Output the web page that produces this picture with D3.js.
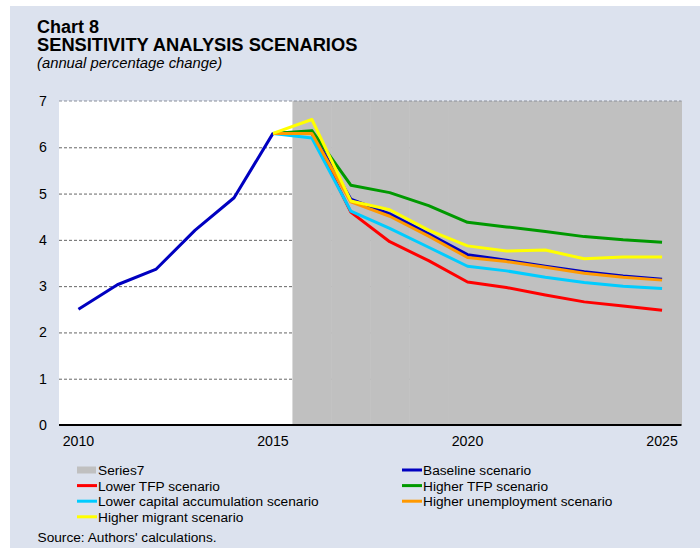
<!DOCTYPE html>
<html>
<head>
<meta charset="utf-8">
<script src="https://cdn.jsdelivr.net/npm/d3@7"></script>
<style>
  body { margin: 0; background: #fff; }
  svg { display: block; font-family: "Liberation Sans", Arial, sans-serif; }
</style>
</head>
<body>
<div id="chart"></div>
<script>
// Data
const years = [2010, 2011, 2012, 2013, 2014, 2015, 2016, 2017, 2018, 2019, 2020, 2021, 2022, 2023, 2024, 2025];
const projYears = [2015, 2016, 2017, 2018, 2019, 2020, 2021, 2022, 2023, 2024, 2025];
const shadedYears = [2016, 2017, 2018, 2019, 2020, 2021, 2022, 2023, 2024, 2025];
const shadedValue = 7;
const baseline = [2.50, 3.03, 3.37, 4.21, 4.91, 6.30, 6.33, 4.88, 4.56, 4.13, 3.68, 3.56, 3.43, 3.31, 3.22, 3.15];
const lowerTFP = [6.30, 6.30, 4.60, 3.96, 3.55, 3.09, 2.97, 2.81, 2.66, 2.57, 2.48];
const higherTFP = [6.30, 6.36, 5.18, 5.02, 4.74, 4.38, 4.28, 4.18, 4.07, 4.00, 3.95];
const lowerCapital = [6.30, 6.20, 4.62, 4.25, 3.84, 3.43, 3.33, 3.19, 3.08, 3.00, 2.95];
const higherUnemployment = [6.30, 6.30, 4.82, 4.51, 4.08, 3.62, 3.53, 3.41, 3.28, 3.19, 3.13];
const higherMigrant = [6.30, 6.60, 4.84, 4.65, 4.21, 3.87, 3.76, 3.78, 3.59, 3.63, 3.63];
const yTicks = [0, 1, 2, 3, 4, 5, 6, 7];
const xTickLabels = [2010, 2015, 2020, 2025];

// Line series in drawing order
const series = [
    { name: "Baseline scenario", x: years, y: baseline, color: "#0000c0" },
    { name: "Lower TFP scenario", x: projYears, y: lowerTFP, color: "#ff0000" },
    { name: "Higher TFP scenario", x: projYears, y: higherTFP, color: "#009900" },
    { name: "Lower capital accumulation scenario", x: projYears, y: lowerCapital, color: "#00ccff" },
    { name: "Higher unemployment scenario", x: projYears, y: higherUnemployment, color: "#ff9900" },
    { name: "Higher migrant scenario", x: projYears, y: higherMigrant, color: "#ffff00" }
];

// SVG parameters
const svgWidth = 700;
const svgHeight = 548;
const plot = { l: 59, r: 681.5, t: 101, b: 425 };

const svg = d3.select("#chart")
    .append("svg")
    .attr("width", svgWidth)
    .attr("height", svgHeight);

// Panel background
svg.append("rect")
    .attr("x", 10).attr("y", 6)
    .attr("width", svgWidth - 10).attr("height", svgHeight - 6)
    .attr("fill", "#dce2ee");

// Titles
svg.append("text").attr("x", 37).attr("y", 32.5)
    .attr("font-size", 18).attr("font-weight", "bold").text("Chart 8");
svg.append("text").attr("x", 37).attr("y", 51)
    .attr("font-size", 18.3).attr("font-weight", "bold").text("SENSITIVITY ANALYSIS SCENARIOS");
svg.append("text").attr("x", 37).attr("y", 67.5)
    .attr("font-size", 14.8).attr("font-style", "italic").text("(annual percentage change)");

// Scales
const xBand = d3.scaleBand()
    .domain(years)
    .range([plot.l, plot.r])
    .padding(0);
const xPos = d => xBand(d) + xBand.bandwidth() / 2;

const yScale = d3.scaleLinear()
    .domain([0, 7])
    .range([plot.b, plot.t]);

// Plot area
svg.append("rect")
    .attr("x", plot.l).attr("y", plot.t)
    .attr("width", plot.r - plot.l).attr("height", plot.b - plot.t)
    .attr("fill", "#ffffff");

// Gridlines (under the shaded series)
svg.append("g")
    .selectAll("line")
    .data(yTicks.filter(d => d > 0 && d < 7))
    .join("line")
    .attr("x1", plot.l).attr("x2", plot.r)
    .attr("y1", d => yScale(d) + 0.5).attr("y2", d => yScale(d) + 0.5)
    .attr("stroke", "#666")
    .attr("stroke-dasharray", "3,2");

// Series7: grey shaded projection period
svg.append("g")
    .selectAll("rect")
    .data(shadedYears)
    .join("rect")
    .attr("x", d => xBand(d))
    .attr("width", xBand.bandwidth() + 0.5)
    .attr("y", yScale(shadedValue))
    .attr("height", yScale(0) - yScale(shadedValue))
    .attr("fill", "#c0c0c0");

// Top gridline
svg.append("line")
    .attr("x1", plot.l).attr("x2", plot.r)
    .attr("y1", yScale(7)).attr("y2", yScale(7))
    .attr("stroke", "#8a8f9a")
    .attr("stroke-dasharray", "3,2");

// Y axis labels
svg.append("g")
    .selectAll("text")
    .data(yTicks)
    .join("text")
    .attr("x", 47)
    .attr("y", d => yScale(d) + 5)
    .attr("text-anchor", "end")
    .attr("font-size", 14.2)
    .text(d => d);

// X axis line and labels
const xAxis = d3.axisBottom(xBand)
    .tickValues(xTickLabels)
    .tickSize(0)
    .tickPadding(11);

const xAxisG = svg.append("g")
    .attr("transform", `translate(0, ${plot.b})`)
    .call(xAxis);
xAxisG.select(".domain")
    .attr("stroke", "#000")
    .attr("stroke-width", 2.2)
    .attr("d", `M${plot.l},0H${plot.r}`);
xAxisG.selectAll("text")
    .attr("font-size", 14.2)
    .attr("font-family", "'Liberation Sans', Arial, sans-serif")
    .attr("fill", "#000");

// Lines
const line = d3.line()
    .x(d => xPos(d[0]))
    .y(d => yScale(d[1]));

svg.append("g")
    .selectAll("path")
    .data(series)
    .join("path")
    .attr("d", s => line(s.x.map((yr, i) => [yr, s.y[i]])))
    .attr("fill", "none")
    .attr("stroke", s => s.color)
    .attr("stroke-width", 3)
    .attr("stroke-linejoin", "round");

// Legend
const legendItems = [
    { name: "Series7", color: "#c0c0c0", box: true, col: 0, row: 0 },
    { name: series[0].name, color: series[0].color, col: 1, row: 0 },
    { name: series[1].name, color: series[1].color, col: 0, row: 1 },
    { name: series[2].name, color: series[2].color, col: 1, row: 1 },
    { name: series[3].name, color: series[3].color, col: 0, row: 2 },
    { name: series[4].name, color: series[4].color, col: 1, row: 2 },
    { name: series[5].name, color: series[5].color, col: 0, row: 3 }
];
const legendX = [77, 402];
const legendY = 470;
const legendStep = 15.6;

const legend = svg.append("g")
    .selectAll("g")
    .data(legendItems)
    .join("g")
    .attr("transform", d => `translate(${legendX[d.col]}, ${legendY + d.row * legendStep})`);

legend.filter(d => d.box)
    .append("rect")
    .attr("x", 0).attr("y", -3.5)
    .attr("width", 19).attr("height", 7)
    .attr("fill", d => d.color);

legend.filter(d => !d.box)
    .append("line")
    .attr("x1", 0).attr("x2", 20)
    .attr("y1", 0).attr("y2", 0)
    .attr("stroke", d => d.color)
    .attr("stroke-width", 3);

legend.append("text")
    .attr("x", 21)
    .attr("y", 5)
    .attr("font-size", 13.7)
    .text(d => d.name);

// Source
svg.append("text")
    .attr("x", 37.5).attr("y", 542)
    .attr("font-size", 13.7)
    .text("Source: Authors' calculations.");
</script>
</body>
</html>
